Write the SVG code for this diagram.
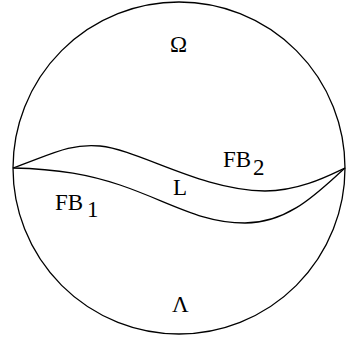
<svg xmlns="http://www.w3.org/2000/svg" width="346" height="341" viewBox="0 0 346 341">
<style>
.ln{fill:none;stroke:#000;stroke-width:1.3}
text{font-family:"Liberation Serif","Times New Roman",serif;font-size:23px;fill:#000}
</style>
<rect width="346" height="341" fill="#fff"/>
<g id="disk"><circle class="ln" cx="179" cy="168" r="166"/></g>
<g id="connectors">
<path id="upper" class="ln" d="M13,168 C50,155 70,143 100,146 C140,150 200,190 265,191 C300,191 330,175 345,168"/>
<path id="lower" class="ln" d="M13,168 C60,169 90,175 120,185 C170,202 200,223 245,223 C290,223 320,190 345,168"/>
</g>
<g id="omega"><text x="170" y="52">Ω</text></g>
<g id="lambda"><text x="172" y="312">Λ</text></g>
<g id="L"><text x="173" y="195">L</text></g>
<g id="FB1"><text x="55" y="210">FB</text><text x="87" y="217">1</text></g>
<g id="FB2"><text x="223" y="167">FB</text><text x="253" y="175">2</text></g>
</svg>
